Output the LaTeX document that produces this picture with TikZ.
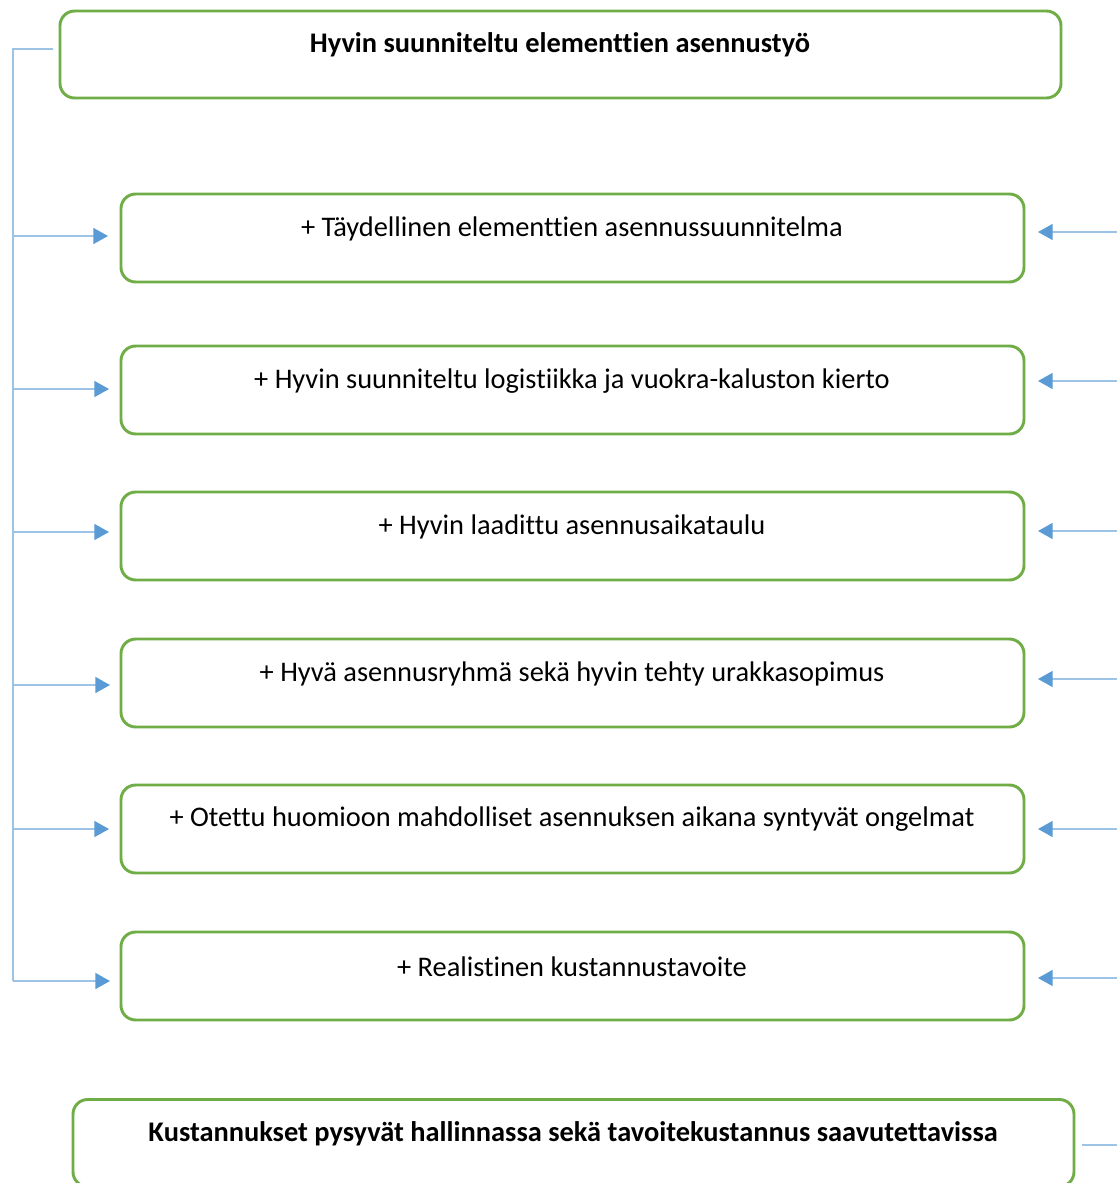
\documentclass[tikz,border=0pt]{standalone}
\usepackage{fontspec}
\setmainfont{Carlito}[Ligatures={NoCommon}]
\usetikzlibrary{arrows.meta}
\definecolor{boxgreen}{HTML}{70AD47}
\definecolor{lineblue}{HTML}{9DC3E6}
\definecolor{tipblue}{HTML}{5B9BD5}
\tikzset{
  stepbox/.style={draw=boxgreen, line width=2.2pt, rounded corners=11pt, minimum width=903*0.75pt, minimum height=88*0.75pt, inner sep=0pt},
  bigbox/.style={draw=boxgreen, line width=2.2pt, rounded corners=11pt, minimum width=1001*0.75pt, minimum height=87*0.75pt, inner sep=0pt},
  txt/.style={font=\fontsize{21.3}{24}\selectfont, inner sep=0pt},
  btxt/.style={font=\bfseries\fontsize{21.3}{24}\selectfont, inner sep=0pt},
  conn/.style={draw=lineblue, line width=1.1pt},
  arr/.style={conn, -{Triangle[length=11pt,width=12pt,color=tipblue]}},
}
\begin{document}
\begin{tikzpicture}[x=0.75pt,y=-0.75pt]
\useasboundingbox (0,0) rectangle (1117,1183);
\clip (0,0) rectangle (1117,1183);
\fill[white] (0,0) rectangle (1117,1183);
% top box
\node[bigbox] (top) at (560.5,54.5) {};
\node[btxt] (toptxt) at (560,45) {Hyvin suunniteltu elementtien asennustyö};
% step boxes
\foreach \i/\yc/\yt/\t in {
  1/238/229/{+ Täydellinen elementtien asennussuunnitelma},
  2/390/381/{+ Hyvin suunniteltu logistiikka ja vuokra-kaluston kierto},
  3/536/527/{+ Hyvin laadittu asennusaikataulu},
  4/683/674/{+ Hyvä asennusryhmä sekä hyvin tehty urakkasopimus},
  5/829/819/{+ Otettu huomioon mahdolliset asennuksen aikana syntyvät ongelmat},
  6/976/967/{+ Realistinen kustannustavoite}} {
  \node[stepbox] (b\i) at (572.5,\yc) {};
  \node[txt] (t\i) at (572,\yt) {\t};
}
% bottom box
\node[bigbox] (bot) at (573.5,1143) {};
\node[btxt] (bottxt) at (573,1134) {Kustannukset pysyvät hallinnassa sekä tavoitekustannus saavutettavissa};
% left bracket
\coordinate (ls) at (53,49);
\coordinate (lc) at (13,49);
\coordinate (le) at (13,981);
\draw[conn] (ls) -- (lc) -- (le);
\foreach \i/\y/\x in {1/236/108,2/389/109,3/532/109,4/685/110,5/829/109,6/981/110} {
  \coordinate (lj\i) at (13,\y);
  \coordinate (lt\i) at (\x,\y);
  \draw[arr] (lj\i) -- (lt\i);
}
% right arrows
\foreach \i/\y in {1/232,2/381,3/531,4/679,5/829,6/978} {
  \coordinate (rs\i) at (1117,\y);
  \coordinate (rt\i) at (1038,\y);
  \draw[arr] (rs\i) -- (rt\i);
}
\coordinate (bs) at (1082,1145);
\coordinate (be) at (1117,1145);
\draw[conn] (bs) -- (be);
\end{tikzpicture}
\end{document}
